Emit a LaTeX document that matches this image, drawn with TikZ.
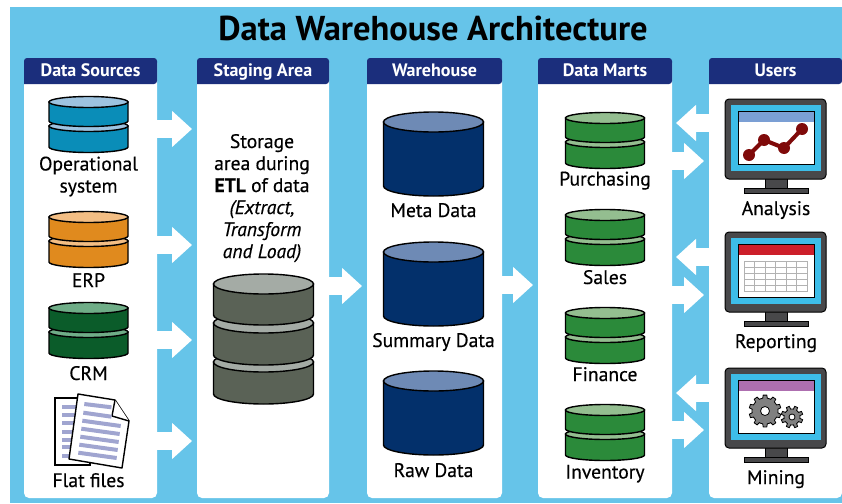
\documentclass[tikz,border=0pt]{standalone}
\usepackage{fontspec}
\setmainfont{PT Sans}
\newfontfamily\lblfont[FakeBold=0.35]{PT Sans}
\usetikzlibrary{arrows.meta}
\definecolor{skybg}{HTML}{66C4E9}
\definecolor{headnavy}{HTML}{1B2E7C}
\definecolor{opmain}{HTML}{0A8DB8}
\definecolor{oplight}{HTML}{9DC3E0}
\definecolor{erpmain}{HTML}{E08A1E}
\definecolor{erplight}{HTML}{F3BE84}
\definecolor{crmmain}{HTML}{0B5C2A}
\definecolor{crmlight}{HTML}{6FAD87}
\definecolor{martmain}{HTML}{2B8A3A}
\definecolor{martlight}{HTML}{94BE90}
\definecolor{stagemain}{HTML}{5A6256}
\definecolor{stagelight}{HTML}{A4ABA5}
\definecolor{whmain}{HTML}{03306B}
\definecolor{whlight}{HTML}{6E8AB5}
\definecolor{pagelines}{HTML}{A0A5D0}
\definecolor{bezel}{HTML}{48484A}
\definecolor{screenblue}{HTML}{3DBDE8}
\definecolor{barblue}{HTML}{7B9FD4}
\definecolor{barred}{HTML}{CC1F2A}
\definecolor{barpurple}{HTML}{AE6FB0}
\definecolor{chartred}{HTML}{7F0A0A}
\tikzset{
  panel/.style={fill=white, rounded corners=5pt, inner sep=0pt, outer sep=0pt, minimum height=440pt},
  headtext/.style={text=white, anchor=base, inner sep=0pt, font=\fontsize{18}{20}\selectfont\bfseries},
  lbl/.style={font=\lblfont\fontsize{19.6}{22}\selectfont, align=center, inner sep=0pt, anchor=base},
  flow/.style={draw=white, line width=18pt, -{Triangle[width=35pt,length=20pt]}, shorten >=5pt},
  disc/.style={draw=black, line width=1.4pt}
}
% one slice of a database stack: x, top, rx, ry, height, body, lid
\newcommand{\dbdisc}[7]{
  \draw [disc, fill=#6] (#1-#3, #2) -- (#1-#3, #2+#5) arc [start angle=180, end angle=0, x radius=#3, y radius=#4] -- (#1+#3, #2) -- cycle;
  \draw [disc, fill=#7] (#1, #2) ellipse [x radius=#3, y radius=#4];
}
% two slices
\newcommand{\smalldb}[4]{
  \dbdisc{#1}{#2+24}{39.5}{5.5}{21}{#3}{#4}
  \dbdisc{#1}{#2}{39.5}{5.5}{19}{#3}{#4}
}
% screen on a stand: top edge, title bar colour
\newcommand{\monitor}[2]{
  \draw [fill=bezel, line width=1pt] (765, #1+78) rectangle (787, #1+90);
  \draw [fill=bezel, line width=1pt] (744, #1+89) rectangle (808, #1+94);
  \draw [fill=bezel, line width=1pt, rounded corners=4pt] (725, #1) rectangle (826, #1+80);
  \fill [screenblue] (731, #1+6) rectangle (821, #1+72);
  \draw [fill=white, line width=0.8pt] (738, #1+12) rectangle (814, #1+65);
  \fill [#2] (738.5, #1+12.5) rectangle (813.5, #1+23);
}
% gear: x, y, outer radius, hole radius, teeth
\newcommand{\gearwheel}[5]{
  \pgfmathsetmacro{\stepa}{360/#5}
  \begin{scope}[shift={(#1, #2)}]
    \draw [fill=gray, line width=0.8pt] (0:#3-3)
      \foreach \t in {1,...,#5} {
        -- ({(\t-1)*\stepa+0.22*\stepa}:#3-3) -- ({(\t-1)*\stepa+0.32*\stepa}:#3) -- ({(\t-1)*\stepa+0.68*\stepa}:#3) -- ({(\t-1)*\stepa+0.78*\stepa}:#3-3) -- ({\t*\stepa}:#3-3)
      } -- cycle;
    \draw [fill=white, line width=0.8pt] (0, 0) circle [radius=#4];
  \end{scope}
}
\begin{document}
\begin{tikzpicture}[x=1pt, y=-1pt]
  \useasboundingbox (0, 0) rectangle (842, 503);
  \fill [skybg] (10, 7) rectangle (842, 503);
  \node [inner sep=0pt, anchor=base, font=\fontsize{34.5}{38}\selectfont\bfseries] (title) at (433, 41) {Data Warehouse Architecture};

  % columns
  \foreach \name/\xa/\xb/\head in {sources/24/157/Data Sources, staging/197/329/Staging Area, warehouse/367/502/Warehouse, marts/538/672/Data Marts, users/709/842/Users} {
    \node [panel, minimum width={\xb-\xa}] (\name) at ({(\xa+\xb)/2}, 278) {};
    \fill [headnavy, rounded corners=3pt] (\xa, 84) -- (\xa, 58) -- (\xb, 58) -- (\xb, 84) [sharp corners] -- cycle;
    \node [headtext] (\name head) at ({(\xa+\xb)/2}, 76) {\head};
  }

  % arrows
  \foreach \y in {129, 245, 340, 441}
    \draw [flow] (sources.east |- 0, \y) -- (staging.west |- 0, \y);
  \draw [flow] (staging.east |- 0, 286) -- (warehouse.west |- 0, 286);
  \draw [flow] (warehouse.east |- 0, 285) -- (marts.west |- 0, 285);
  \foreach \y in {123, 257, 393}
    \draw [flow, shorten >=4pt] (users.west |- 0, \y) -- (marts.east |- 0, \y);
  \foreach \y in {161, 295, 430}
    \draw [flow] (marts.east |- 0, \y) -- (users.west |- 0, \y);

  % sources
  \smalldb{88.5}{102}{opmain}{oplight}
  \node [lbl] (operational) at (88.5, 192.5) {Operational\\system};
  \smalldb{88.5}{217}{erpmain}{erplight}
  \node [lbl] (erp) at (88.5, 287) {ERP};
  \smalldb{88.5}{308}{crmmain}{crmlight}
  \node [lbl] (crm) at (88.5, 380) {CRM};
  \draw [fill=white, line width=1.2pt] (55, 398) rectangle (90, 465);
  \foreach \y in {407, 415, 423, 432, 440, 447, 456}
    \draw [pagelines, line width=4.5pt] (62, \y) -- (82, \y);
  \draw [fill=white, line width=1.4pt, line join=round] (78, 394) -- (115, 400) -- (129, 421) -- (122, 468) -- (69, 459) -- cycle;
  \draw [fill=white, line width=1.4pt, line join=round] (115, 400) -- (112, 416) -- (129, 421);
  \draw [pagelines, line width=4pt] (84.3, 404) -- (111.5, 407.3);
  \draw [pagelines, line width=4pt] (83.3, 412.7) -- (111.5, 416.7);
  \foreach \n in {0,...,4}
    \draw [pagelines, line width=4pt] ({82.3-\n}, {420.7+\n*8}) -- ({120.7-\n}, {426+\n*8});
  \node [lbl] (flatfiles) at (88.5, 487) {Flat files};

  % staging
  \node [lbl] (stagetext) at (262, 258) {Storage\\area during\\\textbf{ETL} of data\\\textit{(Extract,}\\\textit{Transform}\\\textit{and Load)}};
  \dbdisc{263.5}{362}{50}{10}{32}{stagemain}{stagelight}
  \dbdisc{263.5}{323}{50}{10}{32}{stagemain}{stagelight}
  \dbdisc{263.5}{284}{50}{10}{31}{stagemain}{stagelight}

  % warehouse
  \dbdisc{433.5}{122}{50}{10}{64}{whmain}{whlight}
  \node [lbl] (metadata) at (433.5, 217) {Meta Data};
  \dbdisc{433.5}{252}{50}{10}{64}{whmain}{whlight}
  \node [lbl] (summarydata) at (433.5, 347) {Summary Data};
  \dbdisc{433.5}{381}{50}{10}{64}{whmain}{whlight}
  \node [lbl] (rawdata) at (433.5, 477) {Raw Data};

  % marts
  \smalldb{605}{118}{martmain}{martlight}
  \node [lbl] (purchasing) at (605, 185.5) {Purchasing};
  \smalldb{605}{215}{martmain}{martlight}
  \node [lbl] (sales) at (605, 284) {Sales};
  \smalldb{605}{313}{martmain}{martlight}
  \node [lbl] (finance) at (605, 381) {Finance};
  \smalldb{605}{410}{martmain}{martlight}
  \node [lbl] (inventory) at (605, 478.5) {Inventory};

  % users
  \monitor{99}{barblue}
  \draw [chartred, line width=4pt] (749, 155) -- (764, 140) -- (784, 148) -- (802, 129);
  \foreach \px/\py in {749/155, 764/140, 784/148, 802/129}
    \fill [chartred] (\px, \py) circle [radius=6];
  \node [lbl] (analysis) at (776, 215) {Analysis};

  \monitor{232}{barred}
  \draw [gray!60, line width=0.9pt] (744, 261) rectangle (807, 291);
  \foreach \n in {1,...,5}
    \draw [gray!60, line width=0.9pt] ({744+\n*10.5}, 261) -- ({744+\n*10.5}, 291);
  \foreach \n in {1,...,4}
    \draw [gray!60, line width=0.9pt] (744, {261+\n*6}) -- (807, {261+\n*6});
  \node [lbl] (reporting) at (776, 348) {Reporting};

  \monitor{368}{barpurple}
  \gearwheel{765}{411}{16}{4.5}{10}
  \gearwheel{792}{417}{11}{3}{8}
  \node [lbl] (mining) at (776, 484) {Mining};
\end{tikzpicture}
\end{document}
